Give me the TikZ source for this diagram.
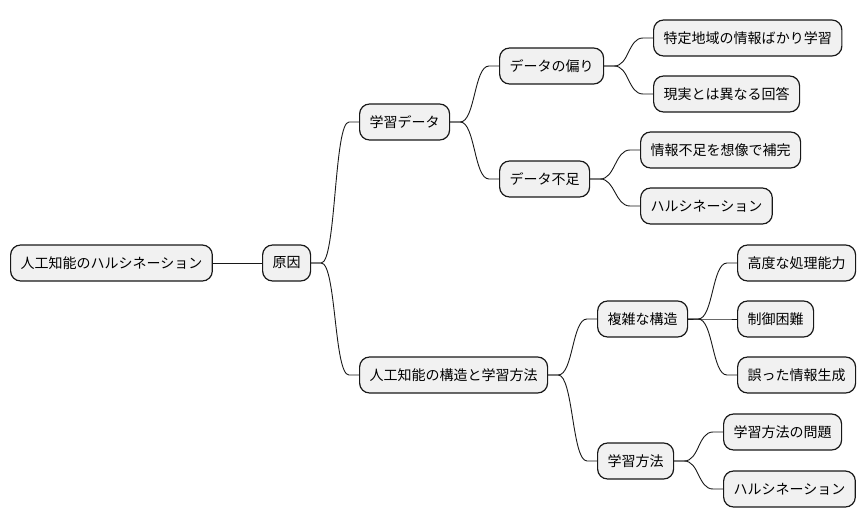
\documentclass[tikz,border=0pt]{standalone}
\usepackage{fontspec}
\newfontfamily\jp{Noto Sans CJK JP}
\usetikzlibrary{calc}
\definecolor{boxfill}{HTML}{F1F1F1}
\definecolor{boxline}{HTML}{181818}
\tikzset{
  mm/.style={draw=boxline, fill=boxfill, line width=1.2pt, rounded corners=10pt,
    minimum height=36pt, inner xsep=10pt, inner ysep=0pt, anchor=west,
    font=\jp\fontsize{14pt}{16pt}\selectfont, text=black},
  conn/.style={draw=boxline, line width=0.9pt, to path={
    -- ($(\tikztostart)+(10pt,0)$)
    .. controls ($(\tikztostart)+(25pt,0)$) and ($(\tikztotarget)+(-25pt,0)$) ..
    ($(\tikztotarget)+(-10pt,0)$) -- (\tikztotarget)}}
}
\begin{document}
\begin{tikzpicture}[x=1pt,y=-1pt]
\useasboundingbox (0,0) rectangle (866,527);
\node[mm] (root) at (10,263) {人工知能のハルシネーション};
\node[mm] (c1) at (262,263) {原因};
\node[mm] (d1) at (359,122) {学習データ};
\node[mm] (d2) at (359,375) {人工知能の構造と学習方法};
\node[mm] (e1) at (499,66) {データの偏り};
\node[mm] (e2) at (499,179) {データ不足};
\node[mm] (e3) at (597,319) {複雑な構造};
\node[mm] (e4) at (597,461) {学習方法};
\node[mm] (f1) at (653,38) {特定地域の情報ばかり学習};
\node[mm] (f2) at (653,94) {現実とは異なる回答};
\node[mm] (f3) at (640,150) {情報不足を想像で補完};
\node[mm] (f4) at (640,206) {ハルシネーション};
\node[mm] (f5) at (737,263) {高度な処理能力};
\node[mm] (f6) at (737,319) {制御困難};
\node[mm] (f7) at (737,375) {誤った情報生成};
\node[mm] (f8) at (723,432) {学習方法の問題};
\node[mm] (f9) at (723,489) {ハルシネーション};
\draw[draw=boxline, line width=0.9pt] (root.east) -- (c1.west);
\path (c1.east) edge[conn] (d1.west) edge[conn] (d2.west);
\path (d1.east) edge[conn] (e1.west) edge[conn] (e2.west);
\path (d2.east) edge[conn] (e3.west) edge[conn] (e4.west);
\path (e1.east) edge[conn] (f1.west) edge[conn] (f2.west);
\path (e2.east) edge[conn] (f3.west) edge[conn] (f4.west);
\path (e3.east) edge[conn] (f5.west) edge[conn] (f6.west) edge[conn] (f7.west);
\path (e4.east) edge[conn] (f8.west) edge[conn] (f9.west);
\end{tikzpicture}
\end{document}
